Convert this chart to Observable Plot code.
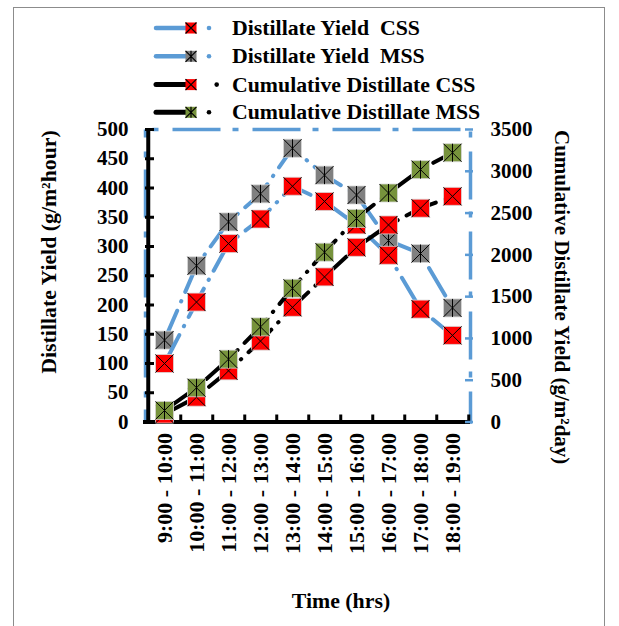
<!DOCTYPE html>
<html><head><meta charset="utf-8">
<script src="https://cdn.jsdelivr.net/npm/d3@7"></script>
<script src="https://cdn.jsdelivr.net/npm/@observablehq/plot@0.6"></script>
<style>
html,body{margin:0;padding:0;background:#fff;}
#wrap{position:relative;width:619px;height:626px;overflow:hidden;}
#wrap > svg{position:absolute;left:0;top:0;}
</style></head><body><div id="wrap"></div>
<script>
// ---- data ----
const categories = ["9:00 - 10:00","10:00 - 11:00","11:00 - 12:00","12:00 - 13:00","13:00 - 14:00",
  "14:00 - 15:00","15:00 - 16:00","16:00 - 17:00","17:00 - 18:00","18:00 - 19:00"];
const yieldCSS = [100, 205, 305, 347, 403, 377, 337, 285, 193, 148];
const yieldMSS = [140, 267, 342, 390, 468, 422, 388, 310, 288, 195];
const cumCSS = [95, 297, 612, 968, 1372, 1736, 2090, 2358, 2558, 2700];
const cumMSS = [138, 410, 752, 1138, 1600, 2032, 2436, 2740, 3020, 3222];
const leftTicks = [0, 50, 100, 150, 200, 250, 300, 350, 400, 450, 500];
const rightTicks = [0, 500, 1000, 1500, 2000, 2500, 3000, 3500];
const seriesNames = ["Distillate Yield  CSS", "Distillate Yield  MSS", "Cumulative Distillate CSS", "Cumulative Distillate MSS"];
const xTitle = "Time (hrs)";
const yLeftTitle = "Distillate Yield (g/m²hour)";
const yRightTitle = "Cumulative Distillate Yield (g/m²day)";

// ---- style ----
const FONT = '"Liberation Serif","Times New Roman",serif';
const blue = "#5B9BD5", red = "#FF0000", gray = "#808080", green = "#77933C";
const W = 619, H = 626;
const fx0 = 145, fx1 = 470, fy0 = 129, fy1 = 421.5;
const frameW = fx1 - fx0, frameH = fy1 - fy0;
const half = frameW / categories.length / 2;

const rows = vals => categories.map((c, i) => ({time: c, value: vals[i]}));
const dCSS = rows(yieldCSS), dMSS = rows(yieldMSS), dCumCSS = rows(cumCSS), dCumMSS = rows(cumMSS);

function sym(kind) {
  return {draw(ctx, size) {
    const r = Math.sqrt(size / Math.PI);
    if (kind === "square") { ctx.rect(-r, -r, 2 * r, 2 * r); return; }
    ctx.moveTo(-r, -r); ctx.lineTo(r, r); ctx.moveTo(r, -r); ctx.lineTo(-r, r);
    if (kind === "star") { ctx.moveTo(0, -r); ctx.lineTo(0, r); }
  }};
}
const SQ = sym("square"), XS = sym("x"), ST = sym("star");
const MR = 9;

function seriesMarks(data, lineColor, fill, glyph) {
  return [
    Plot.line(data, {x: "time", y: "value", stroke: lineColor, strokeWidth: 4,
      strokeDasharray: "32,10,0.5,10", strokeLinecap: "round"}),
    Plot.dot(data, {x: "time", y: "value", symbol: SQ, r: MR, fill: fill, stroke: "#d8d8d8", strokeWidth: 0.8}),
    Plot.dot(data, {x: "time", y: "value", symbol: glyph, r: MR, fill: "none", stroke: "#000", strokeWidth: 1})
  ];
}

const common = {
  width: W, height: H,
  marginLeft: fx0, marginRight: W - fx1, marginTop: fy0, marginBottom: H - fy1,
  style: {fontFamily: FONT, fontSize: "21px", fontWeight: "bold", color: "#000", background: "transparent", overflow: "visible"}
};

// ---- border, legend, titles ----
const deco = d3.create("svg").attr("width", W).attr("height", H)
  .style("font-family", FONT).style("font-weight", "bold").style("font-size", "21.8px");
deco.append("rect").attr("x", 13.5).attr("y", 7.5).attr("width", 591).attr("height", 650)
  .attr("fill", "none").attr("stroke", "#8c8c8c").attr("stroke-width", 1);

const legSpec = [
  {color: blue, fill: red, glyph: "x", dot: 209, w: 4.5, dr: 2.3},
  {color: blue, fill: gray, glyph: "star", dot: 209, w: 4.5, dr: 2.3},
  {color: "#000", fill: red, glyph: "x", dot: 216.7, w: 5, dr: 2.3},
  {color: "#000", fill: green, glyph: "star", dot: 209, w: 5, dr: 2.3}
];
const legBase = [35, 63.3, 91.6, 119.3];
seriesNames.forEach((name, i) => {
  const s = legSpec[i], cy = legBase[i] - 7;
  const g = deco.append("g");
  g.append("line").attr("x1", 156).attr("x2", 187).attr("y1", cy).attr("y2", cy)
    .attr("stroke", s.color).attr("stroke-width", s.w).attr("stroke-linecap", "round");
  g.append("rect").attr("x", 185.5).attr("y", cy - 5.5).attr("width", 11).attr("height", 11).attr("fill", s.fill);
  const p = d3.path(), r = 5.5, cx = 191;
  p.moveTo(cx - r, cy - r); p.lineTo(cx + r, cy + r); p.moveTo(cx + r, cy - r); p.lineTo(cx - r, cy + r);
  if (s.glyph === "star") { p.moveTo(cx, cy - r); p.lineTo(cx, cy + r); }
  g.append("path").attr("d", p.toString()).attr("stroke", "#000").attr("stroke-width", 1.2).attr("fill", "none");
  g.append("circle").attr("cx", s.dot).attr("cy", cy).attr("r", s.dr).attr("fill", s.color);
  g.append("text").attr("x", 232).attr("y", legBase[i]).attr("xml:space", "preserve")
    .style("white-space", "pre").text(name);
});
deco.append("text").attr("transform", "translate(56,252) rotate(-90)").attr("text-anchor", "middle").text(yLeftTitle);
deco.append("text").attr("transform", "translate(555,130) rotate(90)").attr("text-anchor", "start")
  .style("font-size", "21px").text(yRightTitle);
deco.append("text").attr("x", 341).attr("y", 608).attr("text-anchor", "middle").text(xTitle);

// ---- primary chart ----
const p1 = Plot.plot({
  ...common,
  x: {type: "point", domain: categories, padding: 0.5},
  y: {domain: [0, 500]},
  marks: [
    Plot.frame({stroke: blue, strokeWidth: 3.5, strokeDasharray: "48,12,6,14", strokeDashoffset: 53}),
    Plot.ruleY(leftTicks, {stroke: "#000", strokeWidth: 3, insetRight: frameW - 9}),
    Plot.ruleX(categories, {x: d => d, dx: half, stroke: "#000", strokeWidth: 3, insetTop: frameH - 7}),
    Plot.ruleY([0], {stroke: "#000", strokeWidth: 4, insetLeft: -2}),
    Plot.ruleX([categories[0]], {x: d => d, dx: -half, stroke: "#000", strokeWidth: 4, insetBottom: -2}),
    Plot.axisY({anchor: "left", ticks: leftTicks, tickSize: 0, tickPadding: 17, tickFormat: d => String(d), label: null}),
    Plot.axisX({anchor: "bottom", tickSize: 0, tickPadding: 11, tickRotate: -90, label: null, fontSize: 22}),
    ...seriesMarks(dMSS, blue, gray, ST),
    ...seriesMarks(dCSS, blue, red, XS)
  ]
});

// ---- secondary chart ----
const p2 = Plot.plot({
  ...common,
  x: {type: "point", domain: categories, padding: 0.5, axis: null},
  y: {domain: [0, 3500]},
  marks: [
    Plot.ruleY(rightTicks, {stroke: blue, strokeWidth: 2.5, insetLeft: frameW - 5, insetRight: -3}),
    Plot.axisY({anchor: "right", ticks: rightTicks, tickSize: 0, tickPadding: 20, tickFormat: d => String(d), label: null}),
    ...seriesMarks(dCumCSS, "#000", red, XS),
    ...seriesMarks(dCumMSS, "#000", green, ST)
  ]
});
p2.style.pointerEvents = "none";

const wrap = document.getElementById("wrap");
wrap.appendChild(deco.node());
wrap.appendChild(p1);
wrap.appendChild(p2);
</script></body></html>
